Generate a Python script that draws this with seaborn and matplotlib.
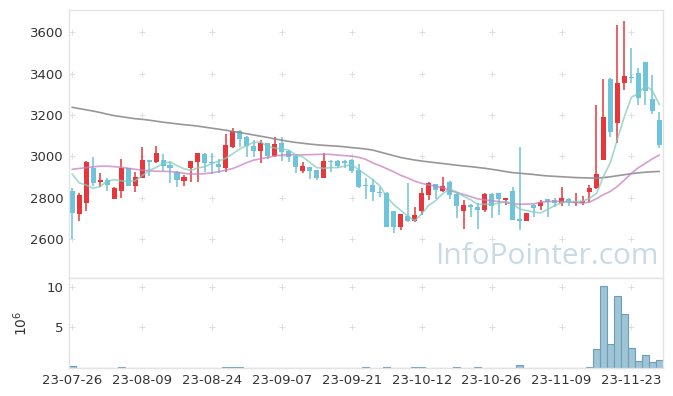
import numpy as np
import pandas as pd
import seaborn as sns
import matplotlib.pyplot as plt

# daily candles (KRW)
opens = [2832, 2722, 2776, 2945, 2877, 2884, 2795, 2834, 2942, 2858,
         2897, 2981, 2970, 2981, 2958, 2926, 2882, 2945, 2974, 3011,
         2972, 2963, 2945, 3045, 3121, 3093, 3050, 3027, 3063, 3002,
         3063, 3024, 3002, 2930, 2947, 2934, 2897, 2977, 2977, 2976,
         2982, 2934, 2861, 2861, 2829, 2822, 2735, 2660, 2712, 2689,
         2737, 2813, 2866, 2834, 2877, 2818, 2737, 2765, 2753, 2742,
         2818, 2821, 2789, 2832, 2697, 2689, 2765, 2761, 2793, 2789,
         2773, 2795, 2773, 2776, 2826, 2845, 2982, 3374, 3160, 3353,
         3382, 3402, 3455, 3277, 3176]
highs = [2848, 2824, 2979, 2995, 2918, 2894, 2852, 2988, 2945, 2923,
         3045, 2983, 3048, 3013, 2970, 2930, 2910, 2979, 3018, 3018,
         3016, 2986, 3108, 3135, 3125, 3098, 3079, 3079, 3066, 3092,
         3092, 3030, 3011, 2974, 2950, 2936, 3014, 2982, 2982, 2982,
         2985, 2963, 2894, 2890, 2853, 2826, 2737, 2723, 2872, 2756,
         2845, 2874, 2868, 2898, 2879, 2820, 2789, 2770, 2776, 2820,
         2820, 2823, 2800, 2853, 3046, 2726, 2770, 2789, 2795, 2800,
         2850, 2800, 2820, 2810, 2861, 3248, 3374, 3378, 3635, 3655,
         3522, 3428, 3457, 3395, 3216]
lows = [2600, 2686, 2734, 2856, 2852, 2834, 2795, 2798, 2855, 2829,
        2895, 2906, 2969, 2930, 2869, 2853, 2858, 2877, 2877, 2923,
        2916, 2921, 2926, 3042, 3047, 2998, 2998, 2966, 2986, 2998,
        2979, 2974, 2918, 2921, 2889, 2885, 2895, 2926, 2942, 2942,
        2920, 2845, 2793, 2785, 2805, 2660, 2628, 2645, 2684, 2684,
        2716, 2790, 2792, 2829, 2792, 2700, 2647, 2705, 2647, 2730,
        2700, 2714, 2765, 2692, 2645, 2689, 2705, 2740, 2705, 2753,
        2760, 2760, 2760, 2762, 2780, 2840, 2980, 3095, 3063, 3321,
        3353, 3248, 3248, 3203, 3040]
closes = [2727, 2811, 2971, 2872, 2885, 2860, 2847, 2942, 2858, 2901,
          2981, 2972, 3015, 2955, 2945, 2884, 2900, 2977, 3016, 2969,
          2968, 2950, 3055, 3122, 3085, 3050, 3027, 3063, 3003, 3060,
          3022, 2998, 2950, 2953, 2930, 2896, 2977, 2972, 2952, 2966,
          2930, 2853, 2856, 2829, 2824, 2660, 2660, 2721, 2686, 2716,
          2821, 2870, 2835, 2856, 2815, 2761, 2765, 2753, 2742, 2818,
          2758, 2791, 2797, 2692, 2685, 2724, 2752, 2777, 2778, 2773,
          2797, 2777, 2780, 2785, 2845, 2913, 3191, 3120, 3353, 3389,
          3378, 3280, 3317, 3221, 3056]
# volume in millions of shares
volume = [0.3, 0.01, 0.01, 0.01, 0.01, 0.01, 0.01, 0.1, 0.01, 0.01,
          0.01, 0.01, 0.01, 0.01, 0.01, 0.01, 0.01, 0.01, 0.01, 0.01,
          0.01, 0.01, 0.1, 0.1, 0.1, 0.01, 0.01, 0.01, 0.01, 0.01,
          0.01, 0.01, 0.01, 0.01, 0.01, 0.01, 0.01, 0.01, 0.01, 0.01,
          0.01, 0.01, 0.1, 0.01, 0.01, 0.1, 0.01, 0.01, 0.01, 0.1,
          0.1, 0.01, 0.01, 0.01, 0.01, 0.1, 0.01, 0.01, 0.1, 0.01,
          0.01, 0.01, 0.01, 0.01, 0.4, 0.01, 0.01, 0.01, 0.01, 0.01,
          0.01, 0.01, 0.01, 0.01, 0.1, 2.4, 10.1, 3.0, 8.9, 6.7,
          2.5, 0.85, 1.55, 0.72, 0.95]
prev_close = [3021, 3026, 2952, 2844]  # last closes before the window (for ma5)
ma20 = [2937, 2941, 2945, 2949, 2952, 2952, 2950, 2947, 2942, 2937,
        2933, 2930, 2928, 2927, 2926, 2923, 2918, 2914, 2914, 2916,
        2920, 2926, 2933, 2941, 2955, 2970, 2982, 2988, 2995, 3002,
        3006, 3007, 3007, 3007, 3008, 3009, 3010, 3009, 3006, 3003,
        3001, 2995, 2985, 2968, 2955, 2940, 2925, 2908, 2895, 2880,
        2869, 2862, 2855, 2848, 2835, 2825, 2815, 2805, 2794, 2789,
        2785, 2781, 2776, 2770, 2768, 2769, 2770, 2777, 2781, 2782,
        2781, 2779, 2776, 2774, 2778, 2795, 2815, 2830, 2855, 2885,
        2918, 2945, 2966, 2988, 3006]
ma60 = [3237, 3231, 3225, 3219, 3212, 3204, 3197, 3192, 3187, 3182,
        3179, 3175, 3170, 3165, 3161, 3157, 3153, 3150, 3146, 3141,
        3136, 3131, 3126, 3120, 3115, 3109, 3103, 3097, 3091, 3084,
        3078, 3072, 3067, 3063, 3059, 3056, 3053, 3051, 3049, 3046,
        3042, 3039, 3035, 3030, 3021, 3012, 3003, 2994, 2988, 2982,
        2977, 2973, 2969, 2965, 2961, 2957, 2953, 2950, 2946, 2942,
        2937, 2932, 2926, 2921, 2918, 2915, 2912, 2908, 2905, 2903,
        2901, 2899, 2897, 2896, 2895, 2894, 2897, 2901, 2906, 2911,
        2916, 2920, 2923, 2925, 2927]
tick_labels = ['23-07-26', '23-08-09', '23-08-24', '23-09-07', '23-09-21',
               '23-10-12', '23-10-26', '23-11-09', '23-11-23']

df = pd.DataFrame({'open': opens, 'high': highs, 'low': lows, 'close': closes,
                   'vol': volume, 'ma20': ma20, 'ma60': ma60})
df['idx'] = np.arange(len(df))
df['ma5'] = pd.Series(prev_close + closes).rolling(5).mean().iloc[4:].values

sns.set_style('white')
plt.rcParams['font.family'] = ['DejaVu Sans']

fig = plt.figure(figsize=(6.73, 3.96), dpi=100)
ax = fig.add_axes([0.1025, 0.298, 0.8825, 0.6767])
axv = fig.add_axes([0.1025, 0.0707, 0.8825, 0.2273], sharex=ax)

up = df.close >= df.open
colors = np.where(up, '#e8373c', '#6ec4da')
ax.vlines(df.idx, df.low, df.high, colors=colors, linewidth=1.1, zorder=2)
body = np.maximum((df.close - df.open).abs(), 5)
ax.bar(df.idx, body, bottom=df[['open', 'close']].min(axis=1), width=0.72,
       color=colors, linewidth=0, zorder=2)

sns.lineplot(data=df, x='idx', y='ma60', ax=ax, color='#8c8c8c', lw=1.2, alpha=0.9, zorder=3)
sns.lineplot(data=df, x='idx', y='ma20', ax=ax, color='#c67fc3', lw=1.2, alpha=0.75, zorder=3)
sns.lineplot(data=df, x='idx', y='ma5', ax=ax, color='#83cbbd', lw=1.2, alpha=0.75, zorder=3)

# volume bars
sns.barplot(data=df, x='idx', y='vol', ax=axv, native_scale=True, width=1.0,
            color='#9fc4d5', edgecolor='#6a9fb7', linewidth=0.8, saturation=1)

xt = np.arange(0, 85, 10)
ax.set_xlim(-0.45, 84.5)
ax.set_ylim(2411, 3708)
axv.set_ylim(0, 11.1)
yt = np.arange(2600, 3601, 200)
ax.set_yticks(yt)
axv.set_yticks([5, 10])
axv.set_xticks(xt)
axv.set_xticklabels(tick_labels)
plt.setp(ax.get_xticklabels(), visible=False)

# little plus marks on grid crossings
gx, gy = np.meshgrid(xt, yt)
ax.scatter(gx.ravel(), gy.ravel(), marker='+', s=16, color='#e0e0e0', linewidths=0.8, zorder=1)
gx, gy = np.meshgrid(xt, [5, 10])
axv.scatter(gx.ravel(), gy.ravel(), marker='+', s=16, color='#e0e0e0', linewidths=0.8, zorder=0)

for a in (ax, axv):
    a.set_xlabel('')
    a.set_ylabel('')
    a.tick_params(length=0, labelsize=9.5, labelcolor='#333333', pad=4)
    for s in a.spines.values():
        s.set_color('#e3e3e3')
        s.set_linewidth(1)

axv.set_ylabel('$10^6$', fontsize=10, color='#333333')
axv.yaxis.set_label_coords(-0.065, 0.5)

ax.text(0.805, 0.08, 'InfoPointer.com', transform=ax.transAxes, ha='center', va='center',
        fontsize=21.5, color='#c8dae6', family='Open Sans', zorder=0)

fig.savefig('out.png', dpi=100)
